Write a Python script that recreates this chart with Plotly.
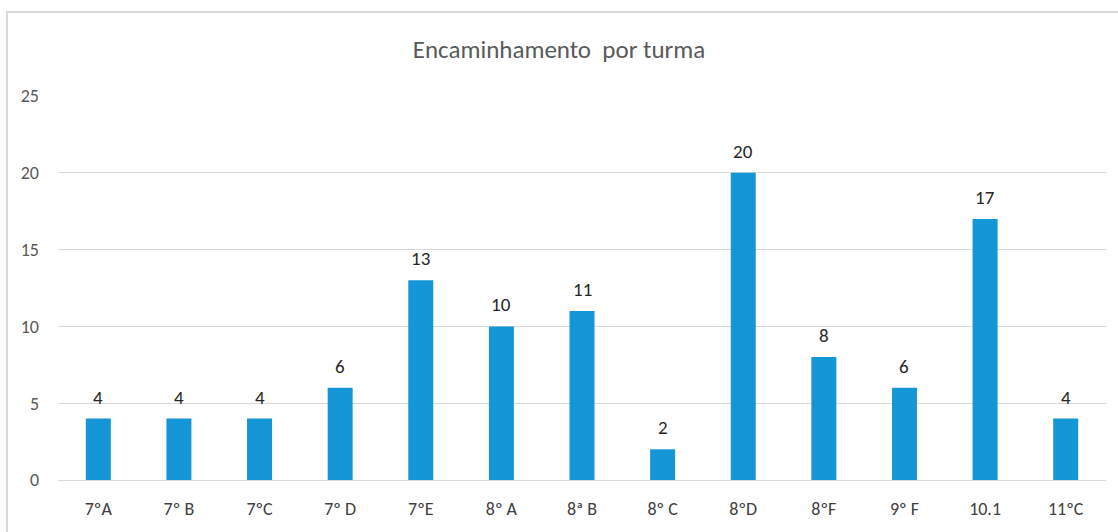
import plotly.graph_objects as go

categories = ["7ºA", "7º B", "7ºC", "7º D", "7ºE", "8º A", "8ª B", "8º C", "8ºD", "8ºF", "9º F", "10.1", "11ºC"]
values = [4, 4, 4, 6, 13, 10, 11, 2, 20, 8, 6, 17, 4]
y_ticks = [0, 5, 10, 15, 20, 25]

font_family = "Carlito, Liberation Sans Narrow, Roboto, sans-serif"

fig = go.Figure(go.Bar(
    x=categories, y=values,
    marker=dict(color="#1596d6", line=dict(width=0)),
    width=0.31,
    hoverinfo="x+y",
))

for i, v in enumerate(values):
    fig.add_annotation(x=i, y=v, text=str(v), showarrow=False, yanchor="bottom",
                       yshift=8, font=dict(size=19, color="#262626", family=font_family))

fig.update_layout(
    width=1118, height=532,
    margin=dict(l=58, r=12, t=96, b=48),
    paper_bgcolor="white", plot_bgcolor="white",
    title=dict(text="Encaminhamento  por turma", x=0.5, xanchor="center",
               y=1 - 49/532, yanchor="middle",
               font=dict(size=25, color="#595959", family=font_family)),
    font=dict(family=font_family, color="#595959", size=18),
    showlegend=False,
    xaxis=dict(type="category", showgrid=False, showline=True, linecolor="#d9d9d9", linewidth=1,
               ticks="", tickfont=dict(size=18, color="#404040"), ticklabelstandoff=12),
    yaxis=dict(range=[0, 25], tickvals=y_ticks, showgrid=True, gridcolor="#d9d9d9",
               zeroline=False, showline=False, ticks="", tickfont=dict(size=18, color="#595959"),
               ticklabelstandoff=18),
    shapes=[dict(type="rect", xref="paper", yref="paper",
                 x0=-51/1048, x1=1.2, y0=-0.3, y1=(484 - 11)/388,
                 line=dict(color="#d9d9d9", width=2), fillcolor="rgba(0,0,0,0)", layer="below")],
)

fig.write_html("out.html", config={"displayModeBar": False},
               post_script="document.body.style.margin='0';")
